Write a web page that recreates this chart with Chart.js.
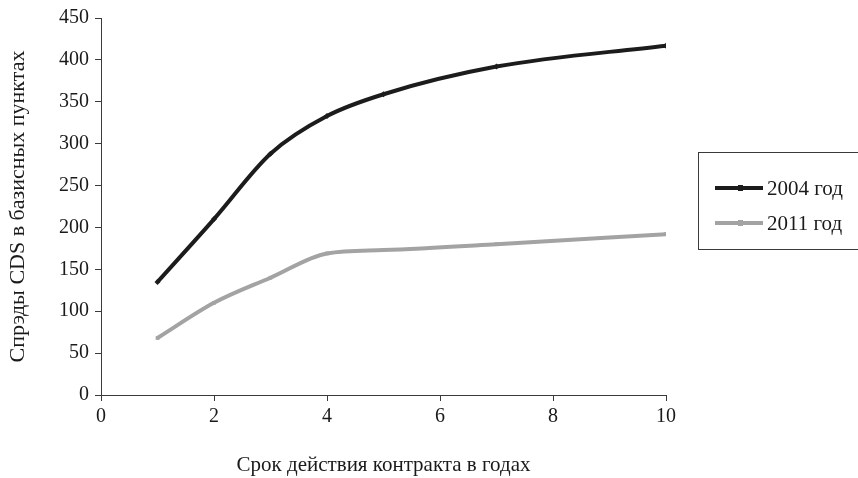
<!DOCTYPE html>
<html>
<head>
<meta charset="utf-8">
<script src="https://cdn.jsdelivr.net/npm/chart.js@4/dist/chart.umd.min.js"></script>
<style>
  html, body { margin: 0; padding: 0; background: #ffffff; }
  #wrap { width: 858px; height: 478px; position: relative; }
</style>
</head>
<body>
<div id="wrap"><canvas id="c" width="858" height="478"></canvas></div>
<script>
// Contract tenor, years
const tenors = [1, 2, 3, 4, 5, 7, 10];
// CDS spreads, basis points
const spreads2004 = [135, 210, 288, 333, 359, 392, 417];
const spreads2011 = [68, 110, 140, 169, 173, 180, 192];
const seriesLabels = ['2004 год', '2011 год'];
const xTitle = 'Срок действия контракта в годах';
const yTitle = 'Спрэды CDS в базисных пунктах';

const FONT = '"Liberation Serif", "Times New Roman", serif';
const TEXT = '#1a1a1a';
const AXIS = '#3a3a3a';

const toPoints = (xs, ys) => xs.map((x, i) => ({ x: x, y: ys[i] }));

// Boxed legend on the right, built from the datasets
const boxedLegend = {
  id: 'boxedLegend',
  afterDraw(chart) {
    const ctx = chart.ctx;
    ctx.save();
    ctx.strokeStyle = AXIS;
    ctx.lineWidth = 1;
    ctx.strokeRect(698.5, 152.5, 175, 97);
    chart.data.datasets.forEach((ds, i) => {
      const y = 188 + i * 35;
      ctx.strokeStyle = ds.borderColor;
      ctx.lineWidth = ds.borderWidth;
      ctx.beginPath();
      ctx.moveTo(715, y);
      ctx.lineTo(763, y);
      ctx.stroke();
      ctx.fillStyle = ds.borderColor;
      ctx.fillRect(738, y - 3, 5, 6);
      ctx.fillStyle = TEXT;
      ctx.font = '21px ' + FONT;
      ctx.textBaseline = 'middle';
      ctx.textAlign = 'left';
      ctx.fillText(ds.label, 767, y + 1);
    });
    ctx.restore();
  }
};

new Chart(document.getElementById('c'), {
  type: 'line',
  data: {
    datasets: [
      {
        label: seriesLabels[0],
        data: toPoints(tenors, spreads2004),
        borderColor: '#1c1c1c',
        backgroundColor: '#1c1c1c',
        borderWidth: 4,
        pointStyle: 'rectRot',
        pointRadius: 3,
        pointBorderWidth: 0,
        cubicInterpolationMode: 'monotone'
      },
      {
        label: seriesLabels[1],
        data: toPoints(tenors, spreads2011),
        borderColor: '#a3a3a3',
        backgroundColor: '#a3a3a3',
        borderWidth: 4,
        pointStyle: 'rect',
        pointRadius: 2.6,
        pointBorderWidth: 0,
        cubicInterpolationMode: 'monotone'
      }
    ]
  },
  options: {
    responsive: false,
    animation: false,
    layout: { padding: { left: 0, right: 192, top: 7, bottom: 0 } },
    plugins: {
      legend: { display: false },
      tooltip: { enabled: false }
    },
    scales: {
      x: {
        type: 'linear',
        min: 0,
        max: 10,
        ticks: { stepSize: 2, color: TEXT, font: { family: FONT, size: 20 }, padding: 4, maxRotation: 0 },
        grid: { display: true, drawOnChartArea: false, drawTicks: true, tickLength: 6, color: AXIS },
        border: { display: true, color: AXIS, width: 1 },
        title: { display: true, text: xTitle, color: TEXT, font: { family: FONT, size: 21 }, padding: { top: 13, bottom: 0 } },
        afterFit(scale) { scale.height = 83; }
      },
      y: {
        min: 0,
        max: 450,
        ticks: { stepSize: 50, color: TEXT, font: { family: FONT, size: 20 }, padding: 6 },
        grid: { display: true, drawOnChartArea: false, drawTicks: true, tickLength: 6, color: AXIS },
        border: { display: true, color: AXIS, width: 1 },
        title: { display: true, text: yTitle, color: TEXT, font: { family: FONT, size: 22 }, padding: { top: 5, bottom: 0 } },
        afterFit(scale) { scale.width = 101; }
      }
    }
  },
  plugins: [boxedLegend]
});
</script>
</body>
</html>
